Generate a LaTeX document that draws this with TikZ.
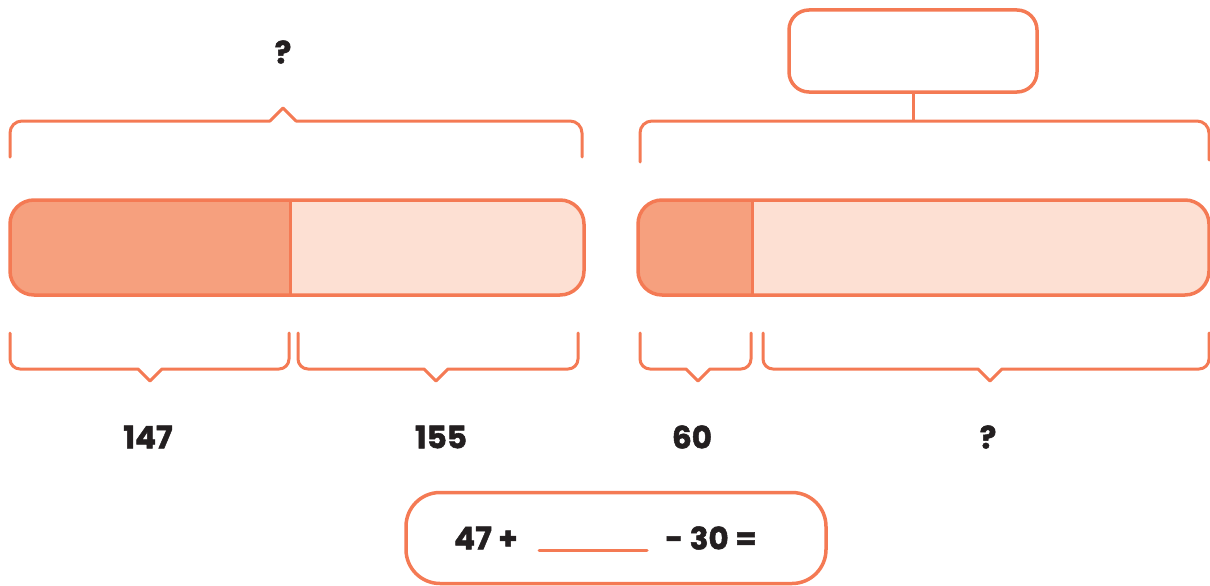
\documentclass[tikz,border=0pt]{standalone}
\usepackage{fontspec}
\setmainfont{Poppins}
\newfontfamily\numfont{Poppins}[FakeBold=1.6]
\usetikzlibrary{positioning}

\definecolor{barline}{HTML}{F47A54}
\definecolor{partdark}{HTML}{F6A07E}
\definecolor{partlight}{HTML}{FDE0D3}
\definecolor{numink}{HTML}{231F20}

\tikzset{
  brace line/.style={barline, line width=3pt, line cap=round, line join=round},
  bar outline/.style={barline, line width=3.5pt, rounded corners=24pt},
  num label/.style={numink, font=\numfont\fontsize{31}{32}\selectfont\bfseries, inner sep=0pt},
  answer box/.style={draw=barline, line width=3.5pt, rounded corners=20pt, inner sep=0pt}
}

\begin{document}
\begin{tikzpicture}[x=1pt, y=-1pt]

        \useasboundingbox (0,0) rectangle (1210,586);

        % Left bar: 147 + 155
        \begin{scope}
            \clip[rounded corners=24pt] (10,200) rectangle (584,295);
            \fill[partlight] (10,200) rectangle (584,295);
            \fill[partdark] (10,200) rectangle (290,295);
        \end{scope}
        \draw[barline, line width=3pt] (290,200) -- (290,295);
        \draw[bar outline] (10,200) rectangle (584,295);

        % Right bar: 60 + ?
        \begin{scope}
            \clip[rounded corners=24pt] (638,200) rectangle (1209,295);
            \fill[partlight] (638,200) rectangle (1209,295);
            \fill[partdark] (638,200) rectangle (752,295);
        \end{scope}
        \draw[barline, line width=3pt] (752,200) -- (752,295);
        \draw[bar outline] (638,200) rectangle (1209,295);

        % Top braces
        \draw[brace line] (10,157) [rounded corners=12pt] -- (10,121)
            [sharp corners] -- (270,121) -- (283,108) -- (296,121)
            [rounded corners=12pt] -- (582,121) -- (582,157);
        \draw[brace line, rounded corners=12pt] (640,162) -- (640,121) -- (1209,121) -- (1209,160);
        \coordinate (topjoin) at (913,121);

        % Bottom braces
        \draw[brace line] (10,333) [rounded corners=10pt] -- (10,369)
            [sharp corners] -- (138,369) -- (150,381) -- (162,369)
            [rounded corners=10pt] -- (289,369) -- (289,333);
        \draw[brace line] (298,333) [rounded corners=10pt] -- (298,369)
            [sharp corners] -- (424,369) -- (436,381) -- (448,369)
            [rounded corners=10pt] -- (578,369) -- (578,333);
        \draw[brace line] (640,333) [rounded corners=10pt] -- (640,369)
            [sharp corners] -- (686,369) -- (698,381) -- (710,369)
            [rounded corners=10pt] -- (751,369) -- (751,333);
        \draw[brace line] (763,333) [rounded corners=10pt] -- (763,369)
            [sharp corners] -- (978,369) -- (990,381) -- (1002,369)
            [rounded corners=10pt] -- (1209,369) -- (1209,333);

        % Empty answer box
        \node[answer box, minimum width=248pt, minimum height=82pt] (answerbox) at (913,51) {};
        \draw[barline, line width=3pt] (answerbox.south) -- (topjoin);

        % Labels
        \node[num label] (totalq) at (283,52) {?};
        \node[num label] (partA) at (148,437) {147};
        \node[num label] (partB) at (441,437) {155};
        \node[num label] (partC) at (692,437) {60};
        \node[num label] (partD) at (988,437) {?};

        % Number sentence
        \node[answer box, rounded corners=34pt, minimum width=420pt, minimum height=91pt] (sumbox) at (616,538) {};
        \node[num label] (sumleft) at (486,538) {47 +};
        \node[num label] (sumright) at (711,538) {- 30 =};
        \coordinate (blankL) at (539,550);
        \coordinate (blankR) at (647,550);
        \draw[brace line] (blankL) -- (blankR);

    \end{tikzpicture}
\end{document}
